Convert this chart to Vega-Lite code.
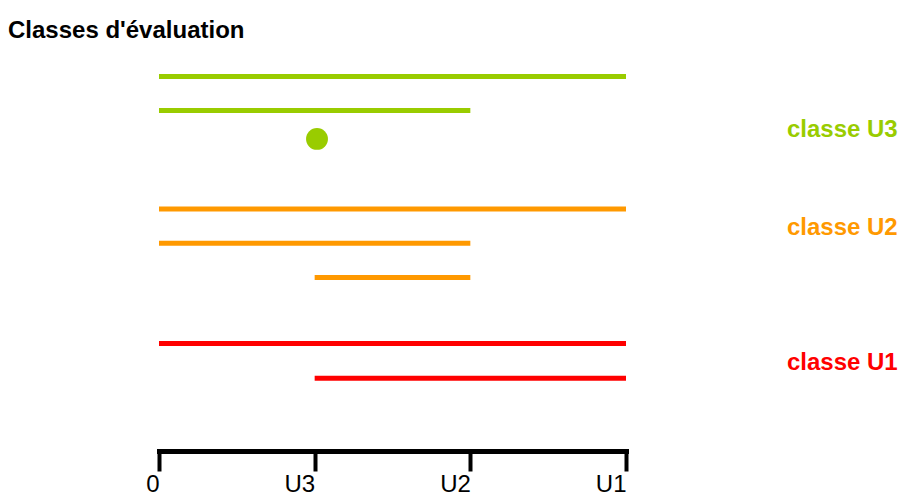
{
  "$schema": "https://vega.github.io/schema/vega-lite/v6.json",
  "autosize": "none",
  "width": 467,
  "height": 401,
  "padding": {"left": 159, "top": 50, "right": 275, "bottom": 44},
  "background": "white",
  "config": {"view": {"stroke": null}, "font": "Liberation Sans"},
  "title": {
    "text": "Classes d'évaluation",
    "anchor": "start",
    "frame": "group",
    "dx": -151,
    "dy": 26,
    "fontSize": 24,
    "fontWeight": "bold",
    "font": "Liberation Sans",
    "color": "black",
    "baseline": "alphabetic",
    "offset": 14
  },
  "datasets": {
    "segments": [
      {"classe": "U3", "debut": 0, "fin": 3, "niveau": 11.21},
      {"classe": "U3", "debut": 0, "fin": 2, "niveau": 10.19},
      {"classe": "U2", "debut": 0, "fin": 3, "niveau": 7.24},
      {"classe": "U2", "debut": 0, "fin": 2, "niveau": 6.22},
      {"classe": "U2", "debut": 1, "fin": 2, "niveau": 5.19},
      {"classe": "U1", "debut": 0, "fin": 3, "niveau": 3.22},
      {"classe": "U1", "debut": 1, "fin": 3, "niveau": 2.18}
    ],
    "points": [
      {"classe": "U3", "position": 1.015, "niveau": 9.34}
    ],
    "etiquettes": [
      {"classe": "U3", "texte": "classe U3", "position": 4.034, "niveau": 9.40},
      {"classe": "U2", "texte": "classe U2", "position": 4.034, "niveau": 6.46},
      {"classe": "U1", "texte": "classe U1", "position": 4.034, "niveau": 2.42}
    ]
  },
  "layer": [
    {
      "data": {"name": "segments"},
      "mark": {"type": "rule", "strokeWidth": 5, "strokeCap": "butt"},
      "encoding": {
        "x": {
          "field": "debut", "type": "quantitative",
          "scale": {"domain": [0, 3], "nice": false, "zero": false},
          "axis": {
            "title": null,
            "values": [0, 1, 2, 3],
            "labelExpr": "datum.value == 0 ? '0' : datum.value == 1 ? 'U3' : datum.value == 2 ? 'U2' : 'U1'",
            "grid": false,
            "domainColor": "black",
            "domainWidth": 5,
            "domainCap": "square",
            "tickColor": "black",
            "tickWidth": 4,
            "tickSize": 20,
            "labelFontSize": 24,
            "labelFont": "Liberation Sans",
            "labelColor": "black",
            "labelAlign": "right",
            "labelDx": -4,
            "labelBaseline": "alphabetic",
            "labelPadding": 20,
            "labelFlush": false,
            "labelOverlap": false
          }
        },
        "x2": {"field": "fin"},
        "y": {
          "field": "niveau", "type": "quantitative",
          "scale": {"domain": [0, 12], "nice": false, "zero": false},
          "axis": null
        },
        "color": {
          "field": "classe", "type": "nominal",
          "scale": {"domain": ["U3", "U2", "U1"], "range": ["#99CC00", "#FF9900", "#FF0000"]},
          "legend": null
        }
      }
    },
    {
      "data": {"name": "points"},
      "mark": {"type": "circle", "size": 480, "opacity": 1},
      "encoding": {
        "x": {"field": "position", "type": "quantitative"},
        "y": {"field": "niveau", "type": "quantitative"},
        "color": {"field": "classe", "type": "nominal", "legend": null}
      }
    },
    {
      "data": {"name": "etiquettes"},
      "mark": {"type": "text", "align": "left", "baseline": "alphabetic", "fontSize": 24, "fontWeight": "bold", "font": "Liberation Sans"},
      "encoding": {
        "x": {"field": "position", "type": "quantitative"},
        "y": {"field": "niveau", "type": "quantitative"},
        "text": {"field": "texte"},
        "color": {"field": "classe", "type": "nominal", "legend": null}
      }
    }
  ]
}
